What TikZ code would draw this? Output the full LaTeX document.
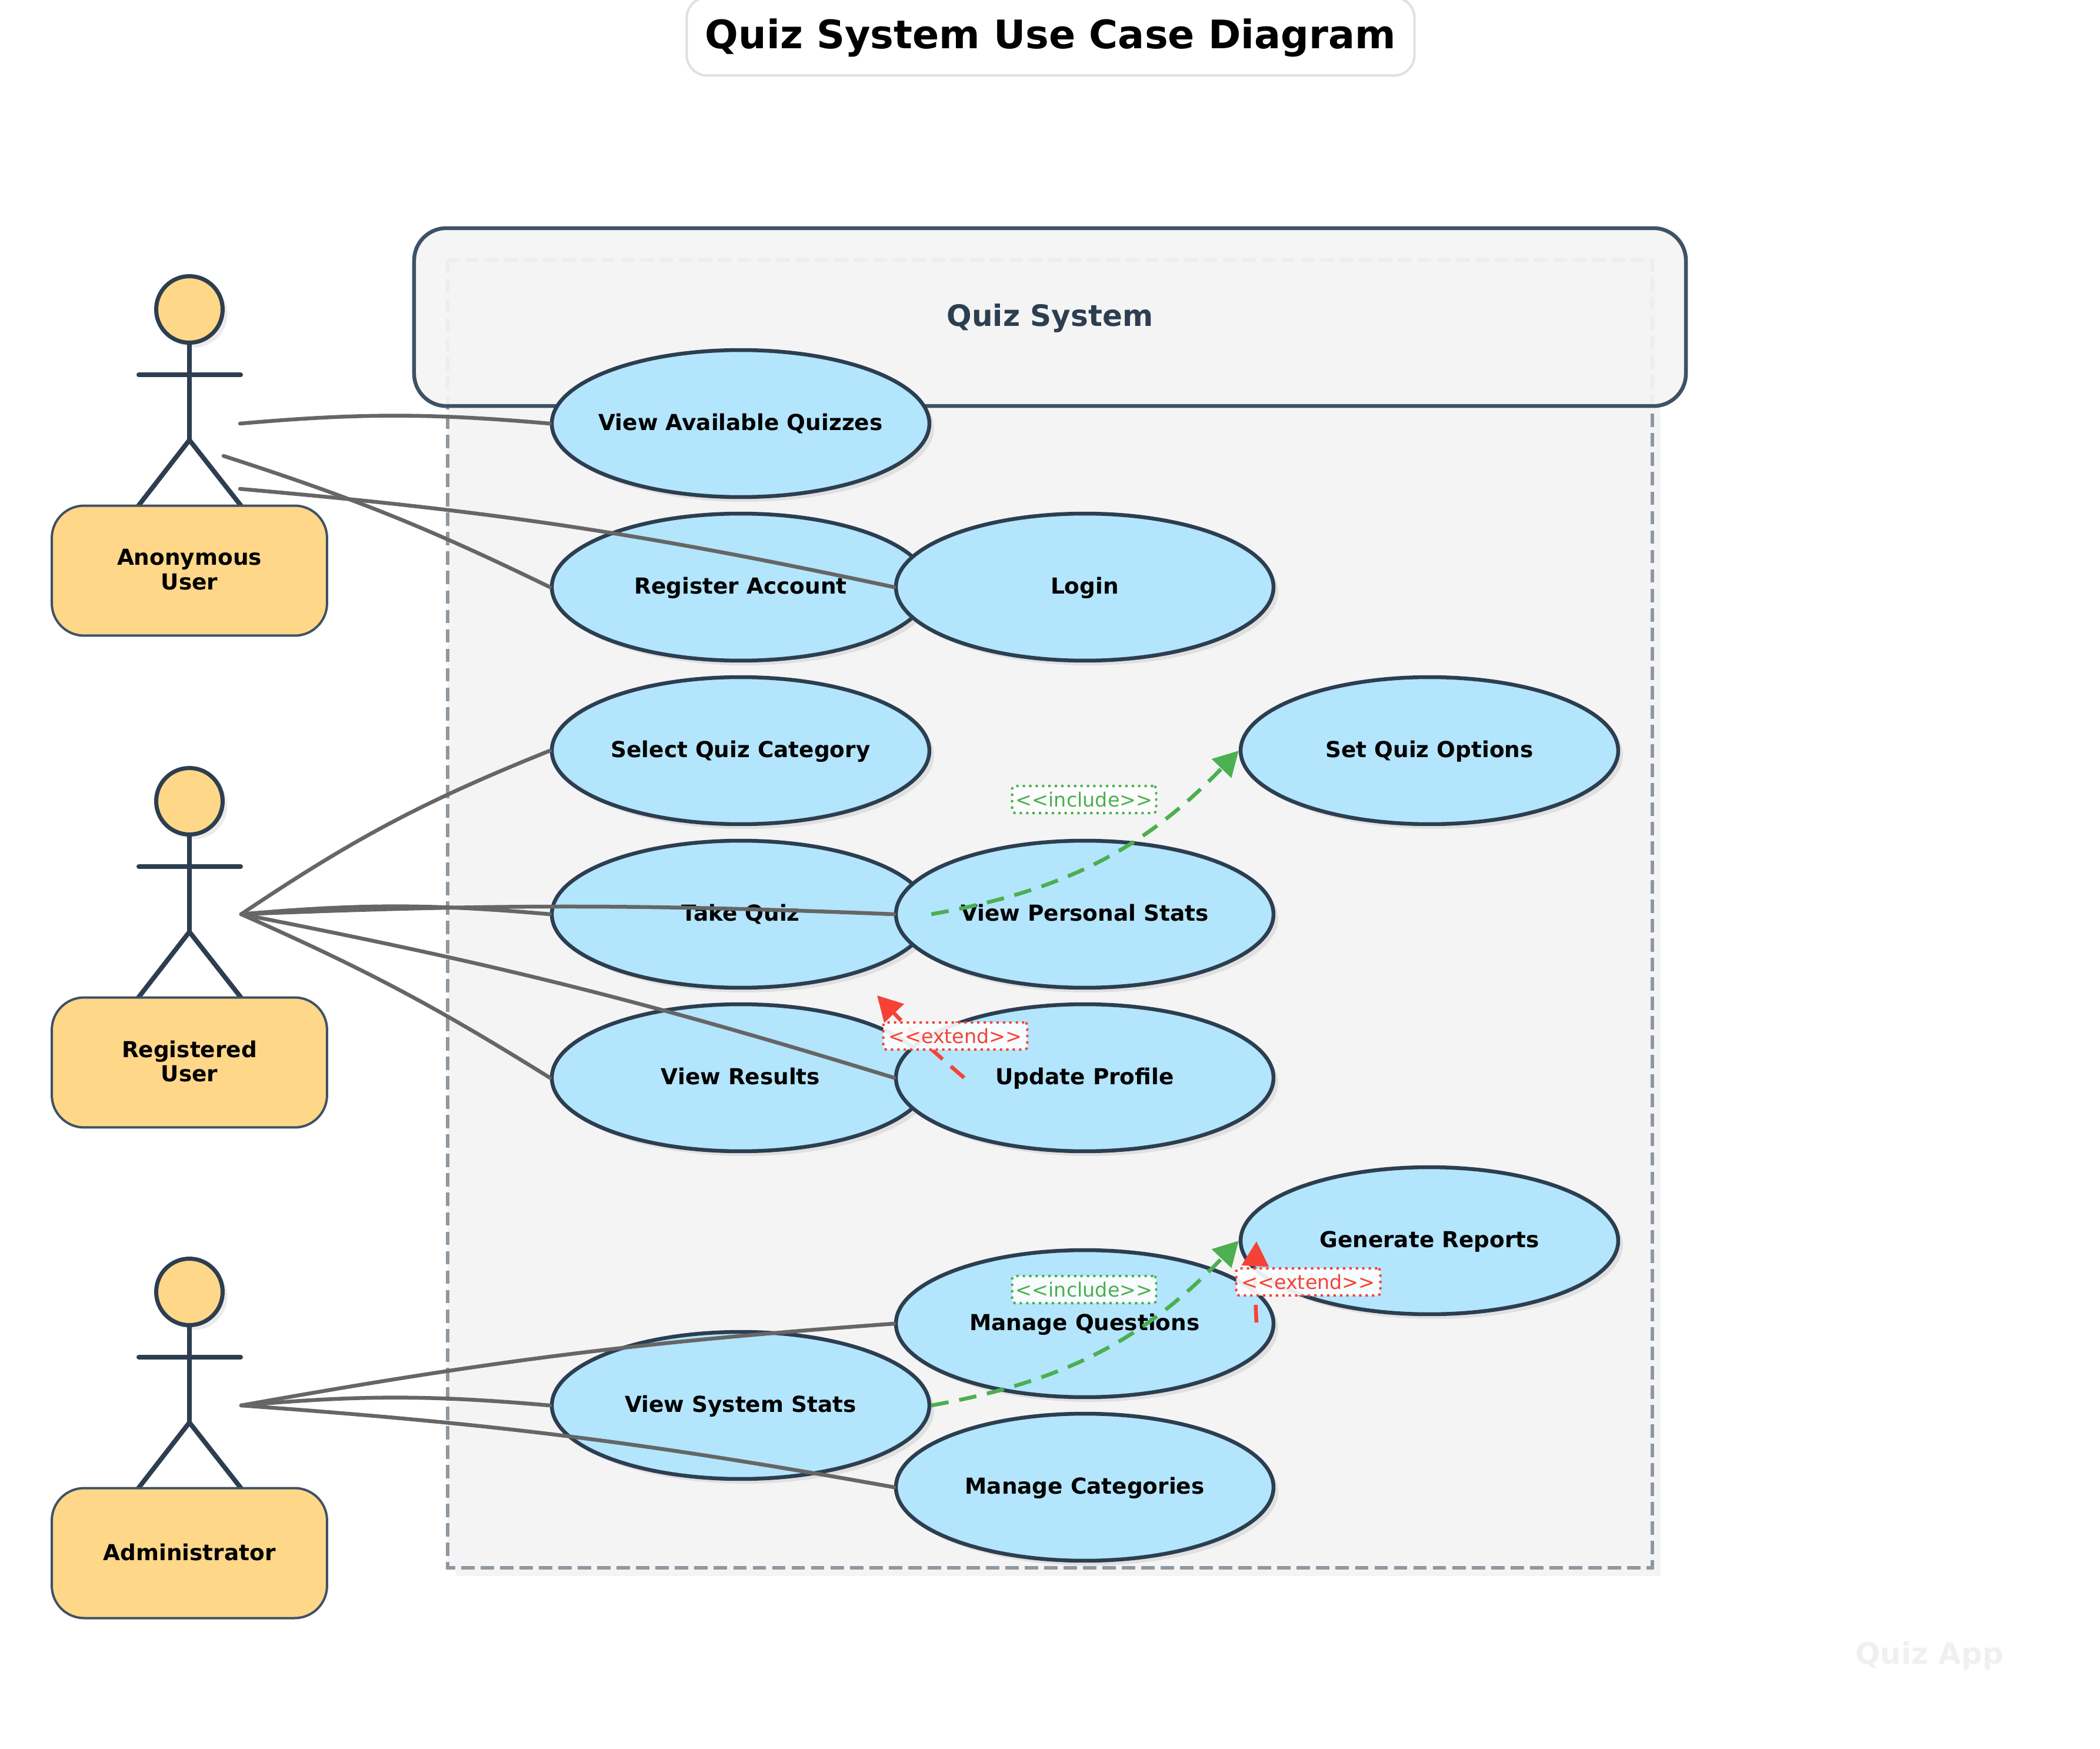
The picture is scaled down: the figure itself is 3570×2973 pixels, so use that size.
\documentclass[tikz,border=0pt]{standalone}
\usepackage{fontspec}
\setmainfont{DejaVu Sans}
\usetikzlibrary{arrows.meta,shapes.geometric,shadows}
\definecolor{inkblue}{HTML}{2C3E50}
\definecolor{boxline}{HTML}{3F5166}
\definecolor{actorfill}{HTML}{FFD788}
\definecolor{casefill}{HTML}{B3E5FC}
\definecolor{panelfill}{HTML}{F4F4F4}
\definecolor{dashgray}{HTML}{8E98A3}
\definecolor{linkgray}{HTML}{666666}
\definecolor{includegreen}{HTML}{4CAF50}
\definecolor{extendred}{HTML}{F44336}
\tikzset{
	softshadow/.style={drop shadow={shadow xshift=0.16cm,shadow yshift=-0.16cm,opacity=0.08,fill=black}},
	usecase/.style={ellipse,draw=inkblue,fill=casefill,line width=0.13cm,minimum width=12.84cm,minimum height=5cm,inner sep=0pt,text height=17pt,text depth=4.3pt,softshadow,font=\fontsize{21.3}{24}\selectfont\bfseries},
	actorbox/.style={rectangle,draw=boxline,fill=actorfill,line width=0.08cm,rounded corners=1.1cm,minimum width=9.36cm,minimum height=4.42cm,align=center,execute at end node=\rule[-2.4pt]{0pt}{0pt},font=\fontsize{21.3}{23.6}\selectfont\bfseries},
	actorhead/.style={circle,draw=inkblue,fill=actorfill,line width=0.14cm,minimum size=2.26cm,inner sep=0pt,softshadow},
	actorline/.style={draw=inkblue,line width=0.16cm,line cap=round},
	assoc/.style={draw=linkgray,line width=0.13cm,line cap=round},
	includelink/.style={draw=includegreen,line width=0.13cm,dash pattern=on 17pt off 10.5pt,-{Triangle[length=24pt,width=25.6pt]}},
	extendlink/.style={draw=extendred,line width=0.13cm,dash pattern=on 17pt off 10.5pt,-{Triangle[length=24pt,width=25.6pt]}},
	includetag/.style={rectangle,draw=includegreen,text=includegreen,line width=0.08cm,dash pattern=on 2.3pt off 3.9pt,rounded corners=0.1cm,fill=white,fill opacity=0.9,text opacity=1,minimum width=4.9cm,minimum height=0.92cm,inner sep=0pt,font=\fontsize{19}{20}\selectfont},
	extendtag/.style={includetag,draw=extendred,text=extendred},
}
\begin{document}
\begin{tikzpicture}[x=0.02cm,y=-0.02cm]
	\useasboundingbox (0,0) rectangle (3570,2973);
	% system boundary
	\fill[panelfill] (775,456) rectangle (2823,2679);
	\draw[fill=panelfill,draw=dashgray,line width=0.13cm,dash pattern=on 13pt off 5.8pt] (761,442) rectangle (2809,2665);
	\node[rectangle,draw=boxline,fill=panelfill,fill opacity=0.93,text opacity=1,line width=0.13cm,rounded corners=1.1cm,minimum width=43.25cm,minimum height=6.05cm,text=inkblue,text height=22.8pt,text depth=5.7pt,font=\fontsize{28.5}{32}\selectfont\bfseries] (sysbar) at (1785,539) {Quiz System};
	\node[rectangle,draw=black!12,fill=white,line width=0.08cm,rounded corners=0.7cm,minimum width=24.75cm,minimum height=2.66cm,text height=30.4pt,text depth=7.6pt,font=\fontsize{38}{42}\selectfont\bfseries] (title) at (1786,62) {Quiz System Use Case Diagram};
	\node[text=black!6,font=\fontsize{28.4}{30}\selectfont\bfseries] (brand) at (3280,2815) {Quiz App};

	% actors
	\foreach \n/\y in {1/0,2/836,3/1670}{
		\node[actorhead] (head\n) at (322,526+\y) {};
		\coordinate (hip\n) at (322,748+\y);
		\draw[actorline] (head\n.south) -- (hip\n);
		\draw[actorline] (236,637+\y) -- (409,637+\y);
		\draw[actorline] (235,860+\y) -- (hip\n) -- (410,860+\y);
	}
	\node[actorbox] (anon) at (322,970) {Anonymous\\User};
	\node[actorbox] (registered) at (322,1806) {Registered\\User};
	\node[actorbox] (admin) at (322,2640) {Administrator};

	% use cases
	\node[usecase] (available) at (1259,720) {\makebox[0pt]{View Available Quizzes}};
	\node[usecase] (register) at (1259,998) {Register Account};
	\node[usecase] (login) at (1844,998) {Login};
	\node[usecase] (category) at (1259,1276) {Select Quiz Category};
	\node[usecase] (options) at (2430,1276) {Set Quiz Options};
	\node[usecase] (take) at (1259,1554) {Take Quiz};
	\node[usecase] (personal) at (1844,1554) {View Personal Stats};
	\node[usecase] (results) at (1259,1832) {View Results};
	\node[usecase] (profile) at (1844,1832) {Update Profile};
	\node[usecase] (reports) at (2430,2109) {Generate Reports};
	\node[usecase] (questions) at (1844,2250) {Manage Questions};
	\node[usecase] (sysstats) at (1259,2389) {View System Stats};
	\node[usecase] (categories) at (1844,2528) {Manage Categories};

	% associations
	\coordinate (anonA) at (408,720);
	\coordinate (anonB) at (380,775);
	\coordinate (anonC) at (408,831);
	\coordinate (regA) at (410,1554);
	\coordinate (adminA) at (410,2389);
	\draw[assoc] (anonA) to[bend left=5] (available.west);
	\draw[assoc] (anonB) to[bend left=4] (register.west);
	\draw[assoc] (anonC) to[bend left=3.5] (login.west);
	\draw[assoc] (regA) to[bend left=6] (category.west);
	\draw[assoc] (regA) to[bend left=5] (take.west);
	\draw[assoc] (regA) to[bend left=2.3] (personal.west);
	\draw[assoc] (regA) to[bend left=3] (profile.west);
	\draw[assoc] (regA) to[bend left=4] (results.west);
	\draw[assoc] (adminA) to[bend left=3] (questions.west);
	\draw[assoc] (adminA) to[bend left=5] (sysstats.west);
	\draw[assoc] (adminA) to[bend left=3] (categories.west);

	% include and extend
	\coordinate (updA) at (1639,1832);
	\coordinate (updB) at (1491,1692);
	\coordinate (repA) at (2136,2248);
	\coordinate (repB) at (2136,2110);
	\draw[includelink] (take.east) to[bend right=18] (options.west);
	\draw[includelink] (sysstats.east) to[bend right=18] (reports.west);
	\draw[extendlink] (updA) to[bend left=3] (updB);
	\draw[extendlink] (repA) to[bend left=3] (repB);
	\node[includetag] (incA) at (1843,1359) {<{}<include>{}>};
	\node[includetag] (incB) at (1843,2192) {<{}<include>{}>};
	\node[extendtag] (extA) at (1624,1761) {<{}<extend>{}>};
	\node[extendtag] (extB) at (2224,2179) {<{}<extend>{}>};
\end{tikzpicture}
\end{document}
